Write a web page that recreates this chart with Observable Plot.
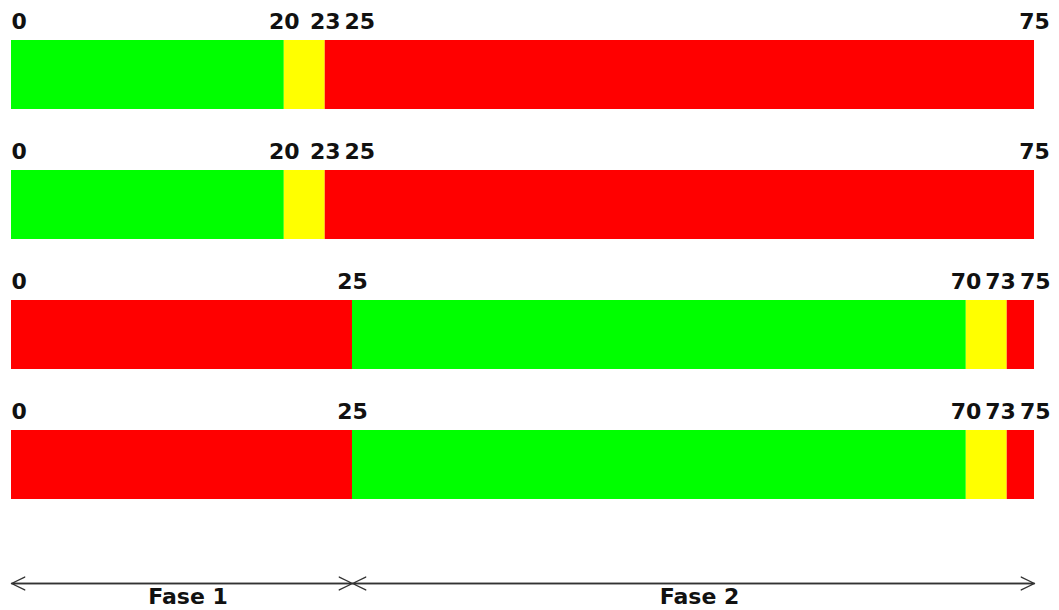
<!DOCTYPE html>
<html>
<head>
<meta charset="utf-8">
<script src="https://cdn.jsdelivr.net/npm/d3@7"></script>
<script src="https://cdn.jsdelivr.net/npm/@observablehq/plot@0.6"></script>
<style>
  html, body { margin: 0; padding: 0; background: #fff; }
  #chart svg { display: block; }
</style>
</head>
<body>
<div id="chart"></div>
<script>
// ---- data ----
const rows = ["1", "2", "3", "4"];
const segRow   = ["1","1","1","1", "2","2","2","2", "3","3","3","3", "4","4","4","4"];
const segFrom  = [0, 20, 23, 25,   0, 20, 23, 25,   0, 25, 70, 73,   0, 25, 70, 73];
const segTo    = [20, 23, 25, 75,  20, 23, 25, 75,  25, 70, 73, 75,  25, 70, 73, 75];
const segState = ["verde","amarillo","rojo","rojo", "verde","amarillo","rojo","rojo",
                  "rojo","verde","amarillo","rojo", "rojo","verde","amarillo","rojo"];
const states = ["verde", "amarillo", "rojo"];
const stateColors = ["#00ff00", "#ffff00", "#ff0000"];

const tickRow   = ["1","1","1","1","1", "2","2","2","2","2", "3","3","3","3","3", "4","4","4","4","4"];
const tickValue = [0, 20, 23, 25, 75,   0, 20, 23, 25, 75,   0, 25, 70, 73, 75,   0, 25, 70, 73, 75];

const phases    = ["Fase 1", "Fase 2"];
const phaseFrom = [0, 25];
const phaseTo   = [25, 75];

// ---- build tables ----
const segments = segRow.map((r, i) => ({row: r, from: segFrom[i], to: segTo[i], state: segState[i]}));
const ticks = tickRow.map((r, i) => ({row: r, value: tickValue[i], label: String(tickValue[i])}));
const phaseData = phases.map((p, i) => ({name: p, from: phaseFrom[i], to: phaseTo[i]}));

// simple label de-overlap (in data units) so neighbouring tick labels don't collide
const fontSize = 22;
const xRange = [11, 1034];
const pxPerUnit = (xRange[1] - xRange[0]) / 75;
const wOf = s => s.length * 0.696 * fontSize / pxPerUnit;
const gap = 4 / pxPerUnit;
const leftBound = 0, rightBound = 75 + 16 / pxPerUnit;
for (const r of rows) {
  const t = ticks.filter(d => d.row === r).sort((a, b) => a.value - b.value);
  let prevRight = -Infinity;
  for (const d of t) {
    const w = wOf(d.label);
    d.cx = Math.max(d.value, leftBound + w / 2, prevRight + gap + w / 2);
    prevRight = d.cx + w / 2;
  }
  let nextLeft = Infinity;
  for (let i = t.length - 1; i >= 0; i--) {
    const d = t[i], w = wOf(d.label);
    d.cx = Math.min(d.cx, rightBound - w / 2, nextLeft - gap - w / 2);
    nextLeft = d.cx - w / 2;
  }
}

const font = "DejaVu Sans, Verdana, sans-serif";

const chart = Plot.plot({
  width: 1059,
  height: 610,
  margin: 0,
  style: {background: "#fff", fontFamily: font},
  x: {domain: [0, 75], range: xRange, axis: null},
  y: {domain: [...rows, "fases"], range: [-21.9, 690], padding: 0.47, axis: null},
  color: {domain: states, range: stateColors},
  marks: [
    Plot.barX(segments, {x1: "from", x2: "to", y: "row", fill: "state"}),
    Plot.text(ticks, {
      x: "cx", y: "row", text: "label",
      dy: -53, lineAnchor: "middle", textAnchor: "middle",
      fontSize, fontWeight: "bold", fontFamily: font, fill: "#111"
    }),
    // phase arrows (heads at both ends)
    Plot.arrow(phaseData, {
      x1: "from", x2: "to", y1: () => "fases", y2: () => "fases",
      dy: -11.5, stroke: "#333", strokeWidth: 1.3, headLength: 17, headAngle: 52
    }),
    Plot.arrow(phaseData, {
      x1: "to", x2: "from", y1: () => "fases", y2: () => "fases",
      dy: -11.5, stroke: "#333", strokeWidth: 1.3, headLength: 17, headAngle: 52
    }),
    Plot.text(phaseData, {
      x: d => (d.from + d.to) / 2, y: () => "fases", text: "name",
      dx: 6, dy: 2, lineAnchor: "middle", textAnchor: "middle",
      fontSize, fontWeight: "bold", fontFamily: font, fill: "#111"
    })
  ]
});
document.getElementById("chart").appendChild(chart);
</script>
</body>
</html>
